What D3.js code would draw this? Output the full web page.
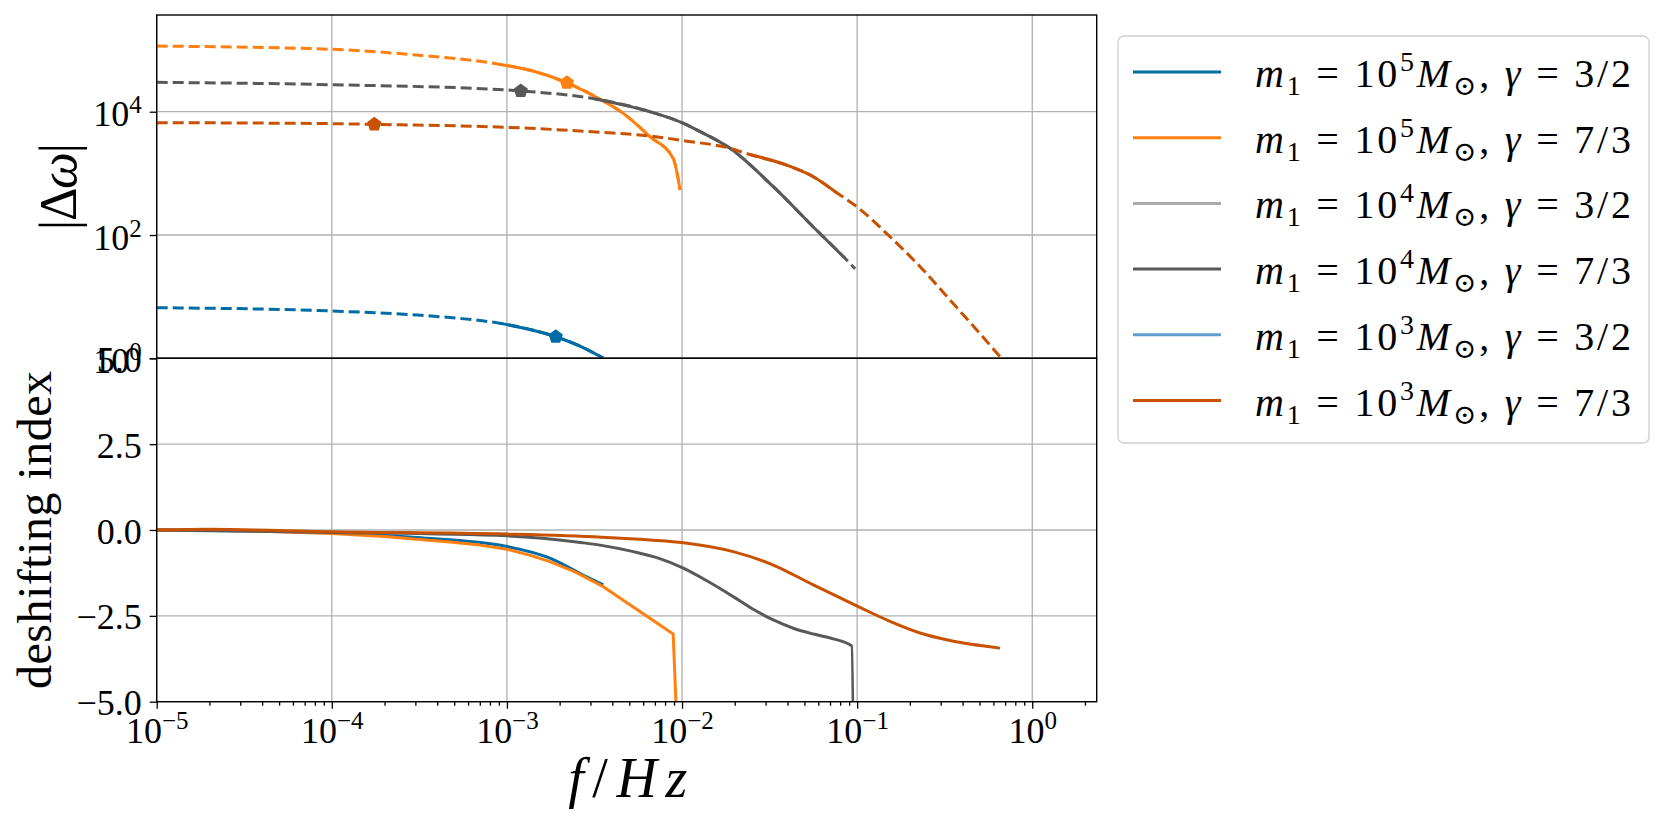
<!DOCTYPE html>
<html><head><meta charset="utf-8">
<script src="https://cdn.jsdelivr.net/npm/d3@7"></script>
<style>
body{margin:0;background:#fff;}
svg{display:block;}
text{font-family:"Liberation Serif","DejaVu Serif",serif;fill:#000;}
</style>
</head><body>
<svg id="c" width="1661" height="824"></svg>
<script>
// ---------------- DATA ----------------
const seriesLabels = [
  {mexp:"5", gamma:"3/2"},
  {mexp:"5", gamma:"7/3"},
  {mexp:"4", gamma:"3/2"},
  {mexp:"4", gamma:"7/3"},
  {mexp:"3", gamma:"3/2"},
  {mexp:"3", gamma:"7/3"}
];
const colors = ["#006BA4","#FF800E","#ABABAB","#595959","#5F9ED1","#C85200"];

const xTickValues = [1e-5,1e-4,1e-3,1e-2,1e-1,1e0];
const xTickExps = ["−5","−4","−3","−2","−1","0"];
const yTopTickValues = [1,1e2,1e4];
const yTopTickExps = ["0","2","4"];
const yBotTickValues = [-5,-2.5,0,2.5,5];
const yBotTickLabels = ["−5.0","−2.5","0.0","2.5","5.0"];

// |Δω| (top panel)
const s1TopF = [1e-5,1e-4,3.05e-4,5.4e-4,9e-4,1.9e-3,2.61e-3,3.55e-3];
const s1TopV = [6.62,5.85,5.04,4.43,3.72,2.24,1.58,1.01];
const s1Solid = [4,7];
const s1Marker = [1.9e-3,2.24];

const s2TopF = [1e-5,1e-4,3.05e-4,9e-4,1.41e-3,2.2e-3,3.47e-3,4.62e-3,6.56e-3,8.9e-3,9.75e-3];
const s2TopV = [1.16e5,1.03e5,8.3e4,5.9e4,4.57e4,2.95e4,1.55e4,9.4e3,3.94e3,1.75e3,537];
const s2Solid = [3,10];
const s2Marker = [2.2e-3,2.95e4];

const s4TopF = [1e-5,1e-4,1e-3,1.2e-3,3.2e-3,6.56e-3,1.02e-2,1.26e-2,1.88e-2,3.32e-2,5.62e-2,8.53e-2,9.73e-2];
const s4TopV = [3.0e4,2.74e4,2.25e4,2.17e4,1.61e4,1.0e4,6.46e3,4.8e3,2.55e3,608,135,41.9,28.2];
const s4Solid = [4,11];
const s4Marker = [1.2e-3,2.17e4];

const s6TopF = [1e-5,1e-4,1.75e-4,1e-3,3.47e-3,6.56e-3,1.02e-2,1.88e-2,2.44e-2,3.96e-2,5.62e-2,7.64e-2,9.95e-2,0.154,0.229,0.339,0.482,0.655];
const s6TopV = [6.64e3,6.4e3,6.24e3,5.58e3,4.63e3,4.04e3,3.39e3,2.55e3,2.02e3,1.36e3,883,485,288,93.8,30.6,8.83,2.88,1.06];
const s6Solid = [8,11];
const s6Marker = [1.75e-4,6.24e3];

// deshifting index (bottom panel)
const s1BotF = [1e-5,1e-4,3.05e-4,1e-3,1.76e-3,2.72e-3,3.55e-3];
const s1BotV = [0,-0.08,-0.22,-0.48,-0.82,-1.31,-1.6];
const s2BotF = [1e-5,2e-5,5e-5,1e-4,2e-4,3.05e-4,4.73e-4,7.0e-4,1e-3,1.36e-3,1.76e-3,2.45e-3,3.55e-3,8.9e-3,9.75e-3];
const s2BotV = [0,0,-0.05,-0.1,-0.19,-0.27,-0.35,-0.44,-0.56,-0.74,-0.92,-1.22,-1.65,-3.03,-8];
const s4BotF = [1e-5,1e-4,1e-3,2.7e-3,3.40e-3,5.27e-3,7.32e-3,1.017e-2,1.41e-2,1.96e-2,2.55e-2,3.32e-2,4.32e-2,5.62e-2,7.31e-2,9.31e-2,9.73e-2];
const s4BotV = [0,-0.07,-0.17,-0.37,-0.44,-0.63,-0.82,-1.11,-1.50,-1.94,-2.31,-2.62,-2.86,-3.03,-3.17,-3.375,-12];
const s6BotF = [1e-5,2e-5,1e-4,1e-3,3.47e-3,6.56e-3,1.02e-2,1.96e-2,3.32e-2,5.62e-2,9.95e-2,0.154,0.229,0.339,0.655];
const s6BotV = [0,0.02,-0.05,-0.12,-0.21,-0.29,-0.37,-0.63,-1.02,-1.6,-2.21,-2.66,-3.0,-3.22,-3.44];

// ---------------- LAYOUT ----------------
const L = 156.7, R = 1096.7, T1 = 15, B1 = 358.3, T2 = 358.3, B2 = 701.7;
const svg = d3.select("#c");
const x = d3.scaleLog().domain([1e-5, Math.pow(10,0.368)]).range([L,R]);
const yTop = d3.scaleLog().domain([1, Math.pow(10,5.569)]).range([B1,T1]);
const yBot = d3.scaleLinear().domain([-5,5]).range([B2,T2]);

const zip = (a,b) => a.map((d,i)=>[d,b[i]]);
const smooth = d3.curveMonotoneX, straight = d3.curveLinear;
const topSeries = [
  {pts: zip(s1TopF,s1TopV), solid:s1Solid, marker:s1Marker, c:colors[0]},
  {pts: zip(s2TopF,s2TopV), solid:s2Solid, marker:s2Marker, c:colors[1]},
  {pts: zip(s4TopF,s4TopV), solid:s4Solid, marker:s4Marker, c:colors[3]},
  {pts: zip(s6TopF,s6TopV), solid:s6Solid, marker:s6Marker, c:colors[5]}
];
const botSeries = [
  {pts: zip(s1BotF,s1BotV), c:colors[0], curve:smooth},
  {pts: zip(s2BotF,s2BotV), c:colors[1], curve:straight},
  {pts: zip(s4BotF,s4BotV), c:colors[3], curve:smooth},
  {pts: zip(s6BotF,s6BotV), c:colors[5], curve:smooth}
];

const defs = svg.append("defs");
defs.append("clipPath").attr("id","clipTop").append("rect")
  .attr("x",L).attr("y",T1).attr("width",R-L).attr("height",B1-T1);
defs.append("clipPath").attr("id","clipBot").append("rect")
  .attr("x",L).attr("y",T2).attr("width",R-L).attr("height",B2-T2);

const gridColor = "#b0b0b0";
const grid = svg.append("g").attr("stroke",gridColor).attr("stroke-width",1.3);
xTickValues.forEach(v=>{
  grid.append("line").attr("x1",x(v)).attr("x2",x(v)).attr("y1",T1).attr("y2",B2);
});
yTopTickValues.forEach(v=>{
  grid.append("line").attr("x1",L).attr("x2",R).attr("y1",yTop(v)).attr("y2",yTop(v));
});
yBotTickValues.forEach(v=>{
  grid.append("line").attr("x1",L).attr("x2",R).attr("y1",yBot(v)).attr("y2",yBot(v));
});

const gTop = svg.append("g").attr("clip-path","url(#clipTop)");
const gBot = svg.append("g").attr("clip-path","url(#clipBot)");

function pentagon(cx,cy,r){
  const p = d3.path();
  for(let k=0;k<5;k++){
    const a = -Math.PI/2 + k*2*Math.PI/5;
    const px = cx + r*Math.cos(a), py = cy + r*Math.sin(a);
    if(k===0) p.moveTo(px,py); else p.lineTo(px,py);
  }
  p.closePath();
  return p.toString();
}

const LW = 3;
const lineTop = d3.line().x(d=>x(d[0])).y(d=>yTop(d[1])).curve(smooth);
topSeries.forEach(s=>{
  gTop.append("path").attr("d",lineTop(s.pts)).attr("fill","none")
    .attr("stroke",s.c).attr("stroke-width",LW).attr("stroke-dasharray","11,5");
  gTop.append("path").attr("d",lineTop(s.pts.slice(s.solid[0],s.solid[1]+1))).attr("fill","none")
    .attr("stroke",s.c).attr("stroke-width",LW);
  gTop.append("path").attr("d",pentagon(x(s.marker[0]),yTop(s.marker[1]),7.5)).attr("fill",s.c);
});
botSeries.forEach(s=>{
  const ln = d3.line().x(d=>x(d[0])).y(d=>yBot(d[1])).curve(s.curve);
  gBot.append("path").attr("d",ln(s.pts)).attr("fill","none")
    .attr("stroke",s.c).attr("stroke-width",LW).attr("stroke-linejoin","round");
});

// frames
svg.append("rect").attr("x",L).attr("y",T1).attr("width",R-L).attr("height",B1-T1)
  .attr("fill","none").attr("stroke","#000").attr("stroke-width",1.4);
svg.append("rect").attr("x",L).attr("y",T2).attr("width",R-L).attr("height",B2-T2)
  .attr("fill","none").attr("stroke","#000").attr("stroke-width",1.4);

// axes
const FS = 36, SUP = 25;
function styleAxis(g){ g.select(".domain").remove(); g.selectAll(".tick line").attr("stroke","#000").attr("stroke-width",1.3); g.selectAll(".tick text").remove(); }

const minors = [];
for(let e=-5;e<=0;e++){ for(let m=2;m<=9;m++){ const v=m*Math.pow(10,e); if(v<=x.domain()[1]) minors.push(v);} }
svg.append("g").attr("transform",`translate(0,${B2})`)
  .call(d3.axisBottom(x).tickValues(minors).tickSize(4).tickSizeOuter(0).tickFormat(()=>""))
  .call(styleAxis);
const xAx = svg.append("g").attr("transform",`translate(0,${B2})`)
  .call(d3.axisBottom(x).tickValues(xTickValues).tickSize(7).tickSizeOuter(0).tickFormat(()=>""))
  .call(styleAxis);
xAx.selectAll(".tick").each(function(d,i){
  const t = d3.select(this).append("text").attr("y",41.3).attr("text-anchor","middle")
    .attr("font-size",FS).attr("fill","#000");
  t.append("tspan").text("10");
  t.append("tspan").attr("font-size",SUP).attr("dy",-14).text(xTickExps[i]);
});

const yTAx = svg.append("g").attr("transform",`translate(${L},0)`)
  .call(d3.axisLeft(yTop).tickValues(yTopTickValues).tickSize(7).tickSizeOuter(0).tickFormat(()=>""))
  .call(styleAxis);
yTAx.selectAll(".tick").each(function(d,i){
  const t = d3.select(this).append("text").attr("x",-15).attr("y",14).attr("text-anchor","end")
    .attr("font-size",FS).attr("fill","#000");
  t.append("tspan").text("10");
  t.append("tspan").attr("font-size",SUP).attr("dy",-13).text(yTopTickExps[i]);
});
const yBAx = svg.append("g").attr("transform",`translate(${L},0)`)
  .call(d3.axisLeft(yBot).tickValues(yBotTickValues).tickSize(7).tickSizeOuter(0).tickFormat(()=>""))
  .call(styleAxis);
yBAx.selectAll(".tick").each(function(d,i){
  d3.select(this).append("text").attr("x",-15).attr("y",13).attr("text-anchor","end")
    .attr("font-size",FS).attr("fill","#000").text(yBotTickLabels[i]);
});

// axis labels
const yl1 = svg.append("text").attr("transform",`translate(76,${(T1+B1)/2}) rotate(-90)`)
  .attr("text-anchor","middle").attr("font-size",52).attr("textLength",87).attr("lengthAdjust","spacing");
yl1.append("tspan").text("|Δ");
yl1.append("tspan").attr("font-style","italic").text("ω");
yl1.append("tspan").text("|");

svg.append("text").attr("transform",`translate(51,${(T2+B2)/2}) rotate(-90)`)
  .attr("text-anchor","middle").attr("font-size",48)
  .attr("textLength",318).attr("lengthAdjust","spacing").text("deshifting index");

const xl = svg.append("text").attr("x",(L+R)/2+1).attr("y",797).attr("text-anchor","middle")
  .attr("font-size",56).attr("textLength",119).attr("lengthAdjust","spacing");
xl.append("tspan").attr("font-style","italic").text("f");
xl.append("tspan").text("/");
xl.append("tspan").attr("font-style","italic").text("Hz");

// legend
const LG = {x:1118, y:36, w:531, h:407};
const lg = svg.append("g");
lg.append("rect").attr("x",LG.x).attr("y",LG.y).attr("width",LG.w).attr("height",LG.h)
  .attr("rx",6).attr("fill","#fff").attr("stroke","#d0d0d0").attr("stroke-width",1.4);
const rowY = d3.scaleLinear().domain([0,5]).range([72,400.5]);
seriesLabels.forEach((s,i)=>{
  const yy = rowY(i);
  lg.append("line").attr("x1",1133).attr("x2",1221).attr("y1",yy).attr("y2",yy)
    .attr("stroke",colors[i]).attr("stroke-width",LW);
  const t = lg.append("text").attr("x",1255).attr("y",yy+15).attr("font-size",40)
    .attr("textLength",376).attr("lengthAdjust","spacing");
  t.append("tspan").attr("font-style","italic").text("m");
  t.append("tspan").attr("font-size",28).attr("dy",8).text("1");
  t.append("tspan").attr("dy",-8).text(" = 10");
  t.append("tspan").attr("font-size",28).attr("dy",-16).text(s.mexp);
  t.append("tspan").attr("font-style","italic").attr("dy",16).text("M");
  t.append("tspan").attr("font-size",28).attr("dy",8).text("⊙");
  t.append("tspan").attr("dy",-8).text(", ");
  t.append("tspan").attr("font-style","italic").text("γ");
  t.append("tspan").text(" = " + s.gamma);
});
</script>
</body></html>
